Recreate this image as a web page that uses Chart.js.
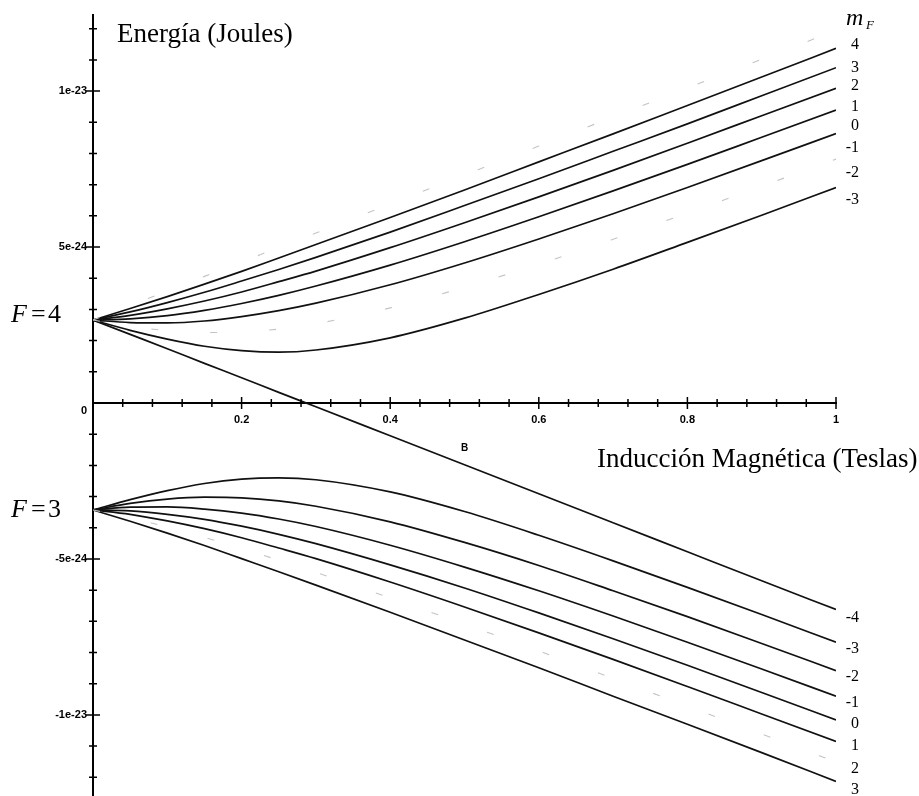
<!DOCTYPE html>
<html>
<head>
<meta charset="utf-8">
<script src="https://cdn.jsdelivr.net/npm/chart.js@4.4.1/dist/chart.umd.min.js"></script>
<style>
  html, body { margin: 0; padding: 0; background: #fff; }
  canvas { display: block; }
</style>
</head>
<body>
<canvas id="chart" width="919" height="796"></canvas>
<script>
// magnetic field B (T)
const fieldB = [0, 0.05, 0.1, 0.15, 0.2, 0.25, 0.3, 0.4, 0.5, 0.6, 0.7, 0.8, 0.9, 1.0]

// energies in units of 1e-24 J
// F = 4 manifold
const f4m4 = [2.66, 3.13, 3.59, 4.06, 4.52, 4.99, 5.45, 6.38, 7.31, 8.24, 9.17, 10.10, 11.02, 11.95]
const f4m3 = [2.66, 3.03, 3.41, 3.81, 4.22, 4.65, 5.08, 5.95, 6.83, 7.73, 8.63, 9.54, 10.45, 11.37]
const f4m2 = [2.66, 2.92, 3.22, 3.55, 3.91, 4.28, 4.67, 5.48, 6.33, 7.19, 8.07, 8.95, 9.85, 10.75]
const f4m1 = [2.66, 2.81, 3.02, 3.27, 3.56, 3.89, 4.23, 4.98, 5.78, 6.61, 7.46, 8.33, 9.21, 10.09]
const f4m0 = [2.66, 2.70, 2.80, 2.97, 3.19, 3.45, 3.75, 4.42, 5.17, 5.97, 6.80, 7.65, 8.52, 9.39]
const f4mNeg1 = [2.66, 2.58, 2.57, 2.63, 2.77, 2.96, 3.20, 3.79, 4.49, 5.26, 6.07, 6.91, 7.77, 8.64]
const f4mNeg2 = [2.66, 2.46, 2.32, 2.26, 2.28, 2.37, 2.54, 3.05, 3.71, 4.45, 5.25, 6.09, 6.95, 7.82]
const f4mNeg3 = [2.66, 2.33, 2.05, 1.82, 1.68, 1.63, 1.70, 2.09, 2.72, 3.48, 4.29, 5.15, 6.02, 6.91]
const f4mNeg4 = [2.66, 2.20, 1.74, 1.27, 0.81, 0.34, -0.12, -1.05, -1.98, -2.91, -3.84, -4.77, -5.70, -6.62]
// F = 3 manifold
const f3mNeg3 = [-3.43, -3.10, -2.81, -2.58, -2.44, -2.40, -2.46, -2.85, -3.48, -4.24, -5.06, -5.91, -6.78, -7.67]
const f3mNeg2 = [-3.43, -3.22, -3.08, -3.02, -3.04, -3.14, -3.31, -3.81, -4.47, -5.21, -6.02, -6.85, -7.71, -8.58]
const f3mNeg1 = [-3.43, -3.34, -3.33, -3.40, -3.53, -3.72, -3.96, -4.56, -5.26, -6.02, -6.83, -7.67, -8.53, -9.40]
const f3m0 = [-3.43, -3.46, -3.57, -3.73, -3.95, -4.21, -4.51, -5.19, -5.93, -6.73, -7.56, -8.41, -9.28, -10.16]
const f3m1 = [-3.43, -3.57, -3.78, -4.03, -4.32, -4.65, -4.99, -5.74, -6.54, -7.37, -8.22, -9.09, -9.97, -10.85]
const f3m2 = [-3.43, -3.68, -3.98, -4.31, -4.67, -5.04, -5.43, -6.25, -7.09, -7.95, -8.83, -9.72, -10.61, -11.51]
const f3m3 = [-3.43, -3.79, -4.17, -4.57, -4.99, -5.41, -5.84, -6.71, -7.60, -8.49, -9.40, -10.30, -11.21, -12.13]

// curves that came out faint in the original print
const faintCurves = [f4m4, f4mNeg2, f3m2]
const solidCurves = [f4m3, f4m2, f4m1, f4m0, f4mNeg1, f4mNeg3, f4mNeg4,
  f3mNeg3, f3mNeg2, f3mNeg1, f3m0, f3m1, f3m3]

// axis tick labels
const fieldTickValues = [0.2, 0.4, 0.6, 0.8, 1]
const fieldTickLabels = ['0.2', '0.4', '0.6', '0.8', '1']
const energyTickValues = [10, 5, 0, -5, -10]
const energyTickLabels = ['1e-23', '5e-24', '0', '-5e-24', '-1e-23']

// m_F labels at the right end of the curves
const mfUpperLabels = ['4', '3', '2', '1', '0', '-1', '-2', '-3']
const mfUpperLevels = [11.47, 10.74, 10.16, 9.49, 8.88, 8.17, 7.37, 6.51]
const mfLowerLabels = ['-4', '-3', '-2', '-1', '0', '1', '2', '3']
const mfLowerLevels = [-6.89, -7.88, -8.78, -9.62, -10.29, -10.99, -11.73, -12.40]

const SERIF = '"Liberation Serif", "Times New Roman", serif'
const SANS = '"Liberation Sans", Arial, sans-serif'

function toPoints(values) {
  return fieldB.map((b, i) => ({ x: b, y: values[i] }))
}

const datasets = [
  ...faintCurves.map((values) => ({
    data: toPoints(values),
    borderColor: '#c4c4c4',
    borderWidth: 1.1,
    borderDash: [7, 52],
    cubicInterpolationMode: 'monotone',
  })),
  ...solidCurves.map((values) => ({
    data: toPoints(values),
    borderColor: '#111',
    borderWidth: 1.7,
    cubicInterpolationMode: 'monotone',
  })),
]

function zeroPad(scale) {
  scale.paddingTop = 0
  scale.paddingBottom = 0
  scale.paddingLeft = 0
  scale.paddingRight = 0
}

function isLabelled(values, v) {
  return values.some((t) => Math.abs(t - v) < 1e-6)
}

const annotate = {
  id: 'annotate',
  afterDraw(chart) {
    const { ctx } = chart
    const xs = chart.scales.x
    const ys = chart.scales.y
    const x0 = xs.getPixelForValue(0)
    const y0 = ys.getPixelForValue(0)
    const xEnd = xs.getPixelForValue(1)

    ctx.save()
    ctx.strokeStyle = '#000'
    ctx.fillStyle = '#000'
    ctx.lineWidth = 1.5

    // ticks crossing the axes
    ctx.beginPath()
    for (const t of xs.ticks) {
      if (Math.abs(t.value) < 1e-9) continue
      const px = xs.getPixelForValue(t.value)
      const h = isLabelled(fieldTickValues, t.value) ? 6 : 4
      ctx.moveTo(px, y0 - h)
      ctx.lineTo(px, y0 + h)
    }
    for (const t of ys.ticks) {
      if (Math.abs(t.value) < 1e-9) continue
      const py = ys.getPixelForValue(t.value)
      const w = isLabelled(energyTickValues, t.value) ? 7 : 4
      ctx.moveTo(x0 - w, py)
      ctx.lineTo(x0 + w, py)
    }
    ctx.stroke()

    // tick labels
    ctx.font = `bold 11px ${SANS}`
    ctx.textAlign = 'center'
    ctx.textBaseline = 'top'
    fieldTickValues.forEach((v, i) => {
      ctx.fillText(fieldTickLabels[i], xs.getPixelForValue(v), y0 + 11)
    })
    ctx.textAlign = 'right'
    ctx.textBaseline = 'middle'
    energyTickValues.forEach((v, i) => {
      const py = ys.getPixelForValue(v) + (v === 0 ? 8 : 0)
      ctx.fillText(energyTickLabels[i], x0 - 6, py)
    })

    // axis variable name
    ctx.font = `bold 10px ${SANS}`
    ctx.textAlign = 'center'
    ctx.fillText('B', (x0 + xEnd) / 2, y0 + 45)

    // axis titles
    ctx.font = `27px ${SERIF}`
    ctx.textAlign = 'left'
    ctx.textBaseline = 'alphabetic'
    ctx.fillText('Energía (Joules)', x0 + 24, 42)
    ctx.fillText('Inducción Magnética (Teslas)', 597, y0 + 64)

    // manifold labels
    const manifolds = [['4', ys.getPixelForValue(2.66) + 2], ['3', ys.getPixelForValue(-3.43) + 7]]
    for (const [label, base] of manifolds) {
      ctx.font = `italic 26px ${SERIF}`
      ctx.fillText('F', 11, base)
      ctx.font = `26px ${SERIF}`
      ctx.fillText('=', 31, base)
      ctx.fillText(label, 48, base)
    }

    // m_F header
    ctx.font = `italic 24px ${SERIF}`
    ctx.fillText('m', 846, 25)
    ctx.font = `italic 13px ${SERIF}`
    ctx.fillText('F', 866, 29)

    // m_F labels
    ctx.font = `16px ${SERIF}`
    ctx.textAlign = 'right'
    ctx.textBaseline = 'middle'
    mfUpperLabels.forEach((label, i) => {
      ctx.fillText(label, xEnd + 23, ys.getPixelForValue(mfUpperLevels[i]))
    })
    mfLowerLabels.forEach((label, i) => {
      ctx.fillText(label, xEnd + 23, ys.getPixelForValue(mfLowerLevels[i]))
    })
    ctx.restore()
  },
}

new Chart(document.getElementById('chart'), {
  type: 'line',
  data: { datasets },
  options: {
    responsive: false,
    animation: false,
    devicePixelRatio: 1,
    layout: { padding: { left: 93, right: 83, top: 15, bottom: 0 } },
    elements: { point: { radius: 0 } },
    plugins: {
      legend: { display: false },
      tooltip: { enabled: false },
    },
    scales: {
      x: {
        type: 'linear',
        position: { y: 0 },
        min: 0,
        max: 1,
        ticks: { display: false, stepSize: 0.04, autoSkip: false },
        grid: { display: false, drawTicks: false },
        border: { display: true, color: '#000', width: 2 },
        afterFit: zeroPad,
      },
      y: {
        type: 'linear',
        position: { x: 0 },
        min: -12.6,
        max: 12.44,
        ticks: { display: false, stepSize: 1, includeBounds: false, autoSkip: false },
        grid: { display: false, drawTicks: false },
        border: { display: true, color: '#000', width: 2 },
        afterFit: zeroPad,
      },
    },
  },
  plugins: [annotate],
})
</script>
</body>
</html>
